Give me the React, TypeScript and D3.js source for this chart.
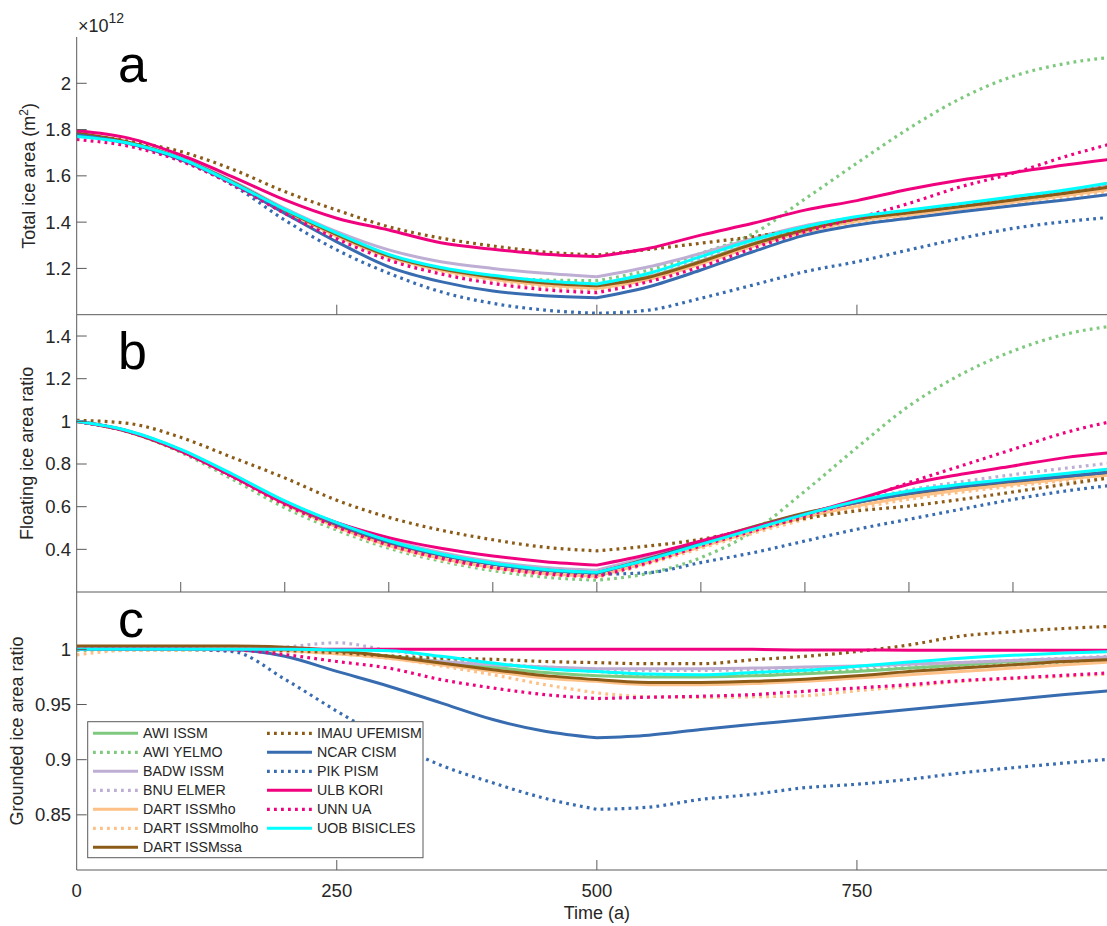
import React from 'react';
import * as d3 from 'd3';

// ---------- data ----------
const TIMES = [0, 50, 100, 150, 200, 250, 300, 350, 400, 450, 500, 550, 600, 650, 700, 750, 800, 850, 900, 950, 1000];

const MODELS = ['AWI ISSM', 'AWI YELMO', 'BADW ISSM', 'BNU ELMER', 'DART ISSMho', 'DART ISSMmolho', 'DART ISSMssa',
  'IMAU UFEMISM', 'NCAR CISM', 'PIK PISM', 'ULB KORI', 'UNN UA', 'UOB BISICLES'];
const COLORS = ['#7fc97f', '#7fc97f', '#beaed4', '#beaed4', '#fdc086', '#fdc086', '#8c5b17',
  '#8c5b17', '#386cb0', '#386cb0', '#f0027f', '#f0027f', '#00ffff'];
const DOTTED = [false, true, false, true, false, true, false, true, false, true, false, true, false];

// Total ice area (x 1e12 m^2)
const TOTAL_AREA: number[][] = [
  [1.780, 1.742, 1.675, 1.572, 1.452, 1.345, 1.252, 1.196, 1.163, 1.139, 1.126, 1.165, 1.232, 1.308, 1.368, 1.416, 1.443, 1.470, 1.499, 1.529, 1.560],
  [1.775, 1.740, 1.673, 1.568, 1.446, 1.338, 1.248, 1.195, 1.163, 1.150, 1.147, 1.193, 1.265, 1.350, 1.500, 1.655, 1.805, 1.935, 2.030, 2.085, 2.115],
  [1.780, 1.742, 1.676, 1.577, 1.460, 1.359, 1.280, 1.229, 1.200, 1.179, 1.164, 1.207, 1.265, 1.330, 1.385, 1.420, 1.447, 1.475, 1.503, 1.530, 1.558],
  [1.778, 1.740, 1.673, 1.570, 1.450, 1.346, 1.255, 1.200, 1.166, 1.143, 1.130, 1.172, 1.240, 1.315, 1.374, 1.420, 1.449, 1.478, 1.508, 1.538, 1.570],
  [1.780, 1.741, 1.673, 1.570, 1.448, 1.340, 1.250, 1.192, 1.154, 1.128, 1.114, 1.152, 1.220, 1.296, 1.358, 1.405, 1.432, 1.458, 1.486, 1.515, 1.545],
  [1.778, 1.740, 1.672, 1.568, 1.445, 1.336, 1.245, 1.187, 1.148, 1.121, 1.107, 1.146, 1.214, 1.290, 1.352, 1.400, 1.427, 1.453, 1.480, 1.508, 1.538],
  [1.785, 1.745, 1.676, 1.573, 1.453, 1.346, 1.254, 1.198, 1.162, 1.137, 1.125, 1.162, 1.229, 1.305, 1.366, 1.414, 1.441, 1.467, 1.496, 1.525, 1.556],
  [1.783, 1.750, 1.705, 1.628, 1.532, 1.452, 1.380, 1.331, 1.297, 1.271, 1.258, 1.282, 1.309, 1.337, 1.372, 1.414, 1.442, 1.469, 1.497, 1.526, 1.558],
  [1.778, 1.740, 1.670, 1.566, 1.438, 1.315, 1.207, 1.143, 1.102, 1.082, 1.073, 1.121, 1.193, 1.272, 1.344, 1.388, 1.417, 1.445, 1.471, 1.496, 1.524],
  [1.775, 1.738, 1.668, 1.560, 1.409, 1.280, 1.179, 1.099, 1.049, 1.020, 1.006, 1.020, 1.071, 1.128, 1.186, 1.229, 1.280, 1.330, 1.373, 1.402, 1.423],
  [1.795, 1.763, 1.690, 1.596, 1.496, 1.417, 1.366, 1.311, 1.283, 1.261, 1.251, 1.287, 1.344, 1.395, 1.452, 1.493, 1.542, 1.582, 1.614, 1.647, 1.675],
  [1.757, 1.728, 1.664, 1.562, 1.438, 1.328, 1.236, 1.176, 1.135, 1.108, 1.095, 1.143, 1.207, 1.287, 1.359, 1.417, 1.481, 1.553, 1.611, 1.683, 1.745],
  [1.770, 1.741, 1.675, 1.570, 1.455, 1.352, 1.260, 1.204, 1.170, 1.146, 1.133, 1.179, 1.251, 1.323, 1.380, 1.424, 1.452, 1.481, 1.510, 1.539, 1.575],
];

// Floating ice area ratio
const FLOATING_RATIO: number[][] = [
  [1.0, 0.953, 0.865, 0.746, 0.620, 0.518, 0.435, 0.375, 0.332, 0.303, 0.290, 0.355, 0.428, 0.500, 0.565, 0.620, 0.664, 0.696, 0.722, 0.745, 0.765],
  [1.0, 0.950, 0.855, 0.728, 0.595, 0.490, 0.405, 0.345, 0.300, 0.270, 0.255, 0.288, 0.361, 0.483, 0.673, 0.877, 1.072, 1.220, 1.330, 1.408, 1.450],
  [1.0, 0.955, 0.868, 0.750, 0.625, 0.525, 0.445, 0.385, 0.342, 0.315, 0.302, 0.365, 0.435, 0.505, 0.568, 0.622, 0.665, 0.697, 0.722, 0.745, 0.765],
  [1.0, 0.952, 0.862, 0.742, 0.613, 0.508, 0.422, 0.362, 0.320, 0.293, 0.280, 0.345, 0.418, 0.492, 0.560, 0.625, 0.678, 0.717, 0.750, 0.780, 0.808],
  [1.0, 0.952, 0.862, 0.742, 0.612, 0.505, 0.418, 0.358, 0.315, 0.287, 0.274, 0.340, 0.412, 0.483, 0.550, 0.603, 0.645, 0.678, 0.705, 0.730, 0.752],
  [1.0, 0.951, 0.860, 0.738, 0.608, 0.500, 0.413, 0.352, 0.310, 0.282, 0.268, 0.333, 0.405, 0.475, 0.540, 0.592, 0.635, 0.668, 0.697, 0.722, 0.746],
  [1.0, 0.950, 0.860, 0.742, 0.616, 0.515, 0.432, 0.373, 0.331, 0.302, 0.289, 0.357, 0.432, 0.505, 0.570, 0.620, 0.660, 0.692, 0.718, 0.742, 0.765],
  [1.005, 0.990, 0.925, 0.830, 0.735, 0.630, 0.550, 0.490, 0.445, 0.410, 0.393, 0.416, 0.447, 0.497, 0.545, 0.580, 0.603, 0.634, 0.669, 0.705, 0.740],
  [1.0, 0.953, 0.865, 0.746, 0.620, 0.518, 0.434, 0.374, 0.331, 0.303, 0.290, 0.355, 0.428, 0.500, 0.565, 0.620, 0.662, 0.694, 0.720, 0.742, 0.765],
  [1.0, 0.952, 0.862, 0.742, 0.615, 0.512, 0.428, 0.368, 0.326, 0.297, 0.283, 0.291, 0.338, 0.384, 0.439, 0.494, 0.541, 0.588, 0.634, 0.673, 0.703],
  [1.0, 0.952, 0.862, 0.742, 0.618, 0.525, 0.455, 0.405, 0.369, 0.342, 0.326, 0.377, 0.439, 0.502, 0.564, 0.634, 0.705, 0.752, 0.791, 0.830, 0.856],
  [1.0, 0.951, 0.860, 0.740, 0.610, 0.505, 0.420, 0.358, 0.314, 0.285, 0.272, 0.338, 0.416, 0.486, 0.556, 0.626, 0.713, 0.791, 0.869, 0.947, 1.005],
  [1.0, 0.955, 0.869, 0.752, 0.627, 0.525, 0.440, 0.378, 0.335, 0.306, 0.292, 0.353, 0.423, 0.494, 0.564, 0.626, 0.673, 0.705, 0.731, 0.756, 0.780],
];

// Grounded ice area ratio
const GROUNDED_RATIO: number[][] = [
  [1.0, 1.0, 1.0, 1.0, 1.0, 0.998, 0.994, 0.989, 0.984, 0.979, 0.976, 0.975, 0.975, 0.976, 0.978, 0.980, 0.983, 0.986, 0.989, 0.991, 0.993],
  [0.999, 0.999, 0.999, 0.999, 0.999, 0.998, 0.994, 0.990, 0.987, 0.983, 0.980, 0.977, 0.9765, 0.978, 0.979, 0.981, 0.983, 0.985, 0.9865, 0.988, 0.990],
  [1.0, 1.0, 1.0, 1.0, 0.999, 0.997, 0.993, 0.989, 0.986, 0.984, 0.9825, 0.9825, 0.9825, 0.983, 0.984, 0.985, 0.9865, 0.988, 0.990, 0.9915, 0.9935],
  [1.0, 1.0, 1.0, 1.0, 1.002, 1.006, 0.999, 0.993, 0.987, 0.984, 0.982, 0.981, 0.981, 0.9815, 0.982, 0.984, 0.986, 0.988, 0.990, 0.992, 0.994],
  [1.0, 1.0, 1.0, 1.0, 0.999, 0.996, 0.992, 0.986, 0.980, 0.974, 0.971, 0.968, 0.968, 0.969, 0.971, 0.974, 0.977, 0.980, 0.983, 0.986, 0.989],
  [0.995, 0.999, 0.999, 0.999, 0.998, 0.996, 0.992, 0.985, 0.977, 0.968, 0.9605, 0.957, 0.9565, 0.957, 0.958, 0.9625, 0.9665, 0.971, 0.9735, 0.9756, 0.978],
  [1.003, 1.003, 1.003, 1.003, 1.002, 0.9988, 0.9937, 0.9877, 0.9816, 0.9762, 0.9726, 0.970, 0.970, 0.971, 0.973, 0.976, 0.980, 0.983, 0.986, 0.989, 0.991],
  [1.0, 1.0, 1.0, 1.0, 0.999, 0.997, 0.994, 0.992, 0.991, 0.989, 0.988, 0.987, 0.987, 0.9905, 0.9937, 0.998, 1.004, 1.012, 1.016, 1.019, 1.021],
  [1.0, 1.0, 1.0, 0.9996, 0.9937, 0.980, 0.9666, 0.9515, 0.9364, 0.9258, 0.9198, 0.9222, 0.9274, 0.932, 0.9364, 0.941, 0.9455, 0.950, 0.9545, 0.959, 0.963],
  [1.0, 1.0, 1.0, 0.998, 0.973, 0.944, 0.917, 0.895, 0.879, 0.865, 0.855, 0.857, 0.864, 0.8686, 0.8746, 0.8777, 0.8822, 0.888, 0.8927, 0.897, 0.901],
  [1.0, 1.0, 1.0, 1.0, 1.0, 1.0, 1.0, 1.0, 1.0, 1.0, 1.0, 1.0, 1.0, 1.0, 0.9995, 0.9995, 0.9993, 0.9993, 0.9993, 0.9992, 0.9992],
  [1.0, 1.0, 1.0, 0.9995, 0.9952, 0.989, 0.983, 0.9726, 0.965, 0.959, 0.9554, 0.9566, 0.9575, 0.959, 0.962, 0.965, 0.968, 0.9717, 0.974, 0.9765, 0.979],
  [1.0, 1.0, 1.0, 1.0, 1.0, 0.9995, 0.9988, 0.9937, 0.9876, 0.9825, 0.980, 0.9777, 0.977, 0.979, 0.981, 0.9846, 0.9885, 0.992, 0.9946, 0.9967, 0.998],
];

const A_TICKS = [1.2, 1.4, 1.6, 1.8, 2];
const A_TICK_LABELS = ['1.2', '1.4', '1.6', '1.8', '2'];
const B_TICKS = [0.4, 0.6, 0.8, 1.0, 1.2, 1.4];
const B_TICK_LABELS = ['0.4', '0.6', '0.8', '1', '1.2', '1.4'];
const C_TICKS = [0.85, 0.9, 0.95, 1.0];
const C_TICK_LABELS = ['0.85', '0.9', '0.95', '1'];
const X_TICKS_AC = [250, 500, 750];
const X_TICKS_B = [100, 200, 300, 400, 500, 600, 700, 800, 900];
const X_TICK_LABELS = ['0', '250', '500', '750'];
const X_LABEL_VALUES = [0, 250, 500, 750];

// ---------- layout ----------
const W = 1107;
const H = 926;
const FONT = "'Liberation Sans', Arial, Helvetica, sans-serif";
const TEXT = '#262626';
const AXIS = '#5a5a5a';
const X_LEFT = 76.7;
const X_RIGHT_1000 = 1117;

const x = d3.scaleLinear().domain([0, 1000]).range([X_LEFT, X_RIGHT_1000]);

const PANELS = [
  { key: 'a', top: 37, bottom: 314.7, domain: [1.0, 2.2], data: TOTAL_AREA, ticks: A_TICKS, tickLabels: A_TICK_LABELS, xt: X_TICKS_AC,
    ylabel: 'Total ice area (m', labelX: 35, letterY: 82 },
  { key: 'b', top: 314.7, bottom: 592, domain: [0.2, 1.5], data: FLOATING_RATIO, ticks: B_TICKS, tickLabels: B_TICK_LABELS, xt: X_TICKS_B,
    ylabel: 'Floating ice area ratio', labelX: 33, letterY: 369 },
  { key: 'c', top: 592, bottom: 870, domain: [0.8, 1.052], data: GROUNDED_RATIO, ticks: C_TICKS, tickLabels: C_TICK_LABELS, xt: X_TICKS_AC,
    ylabel: 'Grounded ice area ratio', labelX: 23, letterY: 637 },
];

function makePath(values: number[], y: d3.ScaleLinear<number, number>) {
  const pts = TIMES.map((t, i) => [t, values[i]] as [number, number]);
  const gen = d3.line<[number, number]>().x(d => x(d[0])).y(d => y(d[1])).curve(d3.curveMonotoneX);
  const first = pts.filter(p => p[0] <= 500);
  const second = pts.filter(p => p[0] >= 500);
  const d2 = gen(second) || '';
  return (gen(first) || '') + 'L' + d2.slice(1);
}

const DASH = '2.8,4.2';

export default function App() {
  return (
    <svg width={W} height={H} style={{ position: 'absolute', left: 0, top: 0, background: '#fff' }}
      fontFamily={FONT}>
      <rect x={0} y={0} width={W} height={H} fill="#fff" />
      <defs>
        {PANELS.map(p => (
          <clipPath id={`clip-${p.key}`} key={p.key}>
            <rect x={X_LEFT} y={p.top} width={W - X_LEFT} height={p.bottom - p.top} />
          </clipPath>
        ))}
      </defs>

      {PANELS.map(p => {
        const y = d3.scaleLinear().domain(p.domain).range([p.bottom, p.top]);
        const midY = (p.top + p.bottom) / 2;
        return (
          <g key={p.key}>
            <g clipPath={`url(#clip-${p.key})`}>
              {p.data.map((vals, i) => (
                <path key={i} d={makePath(vals, y)} fill="none" stroke={COLORS[i]} strokeWidth={DOTTED[i] ? 3.2 : 3}
                  strokeDasharray={DOTTED[i] ? DASH : undefined} strokeLinejoin="round" />
              ))}
            </g>
            {/* axes */}
            <line x1={X_LEFT} x2={X_LEFT} y1={p.top} y2={p.bottom} stroke={AXIS} strokeWidth={1} />
            <line x1={X_LEFT} x2={W} y1={p.bottom} y2={p.bottom} stroke={AXIS} strokeWidth={1} />
            {p.ticks.map((t, i) => (
              <g key={i}>
                <line x1={X_LEFT} x2={X_LEFT + 10} y1={y(t)} y2={y(t)} stroke={AXIS} strokeWidth={1} />
                <text x={71} y={y(t)} dy="0.35em" textAnchor="end" fontSize={18.5} fill={TEXT}>{p.tickLabels[i]}</text>
              </g>
            ))}
            {p.xt.map(t => (
              <line key={t} x1={x(t)} x2={x(t)} y1={p.bottom} y2={p.bottom - 10} stroke={AXIS} strokeWidth={1} />
            ))}
            <text x={118} y={p.letterY} fontSize={52} fill="#000">{p.key}</text>
            <text transform={`translate(${p.labelX},${midY}) rotate(-90)`} textAnchor="middle" fontSize={18} fill={TEXT}>
              {p.ylabel}
              {p.key === 'a' ? <><tspan fontSize={12} dy={-7}>2</tspan><tspan dy={7}>)</tspan></> : null}
            </text>
          </g>
        );
      })}

      {/* exponent */}
      <text x={78} y={32} fontSize={18} fill={TEXT}>×10<tspan fontSize={14} dy={-9}>12</tspan></text>

      {/* x tick labels */}
      {X_LABEL_VALUES.map((t, i) => (
        <text key={t} x={x(t)} y={897} textAnchor="middle" fontSize={18.5} fill={TEXT}>{X_TICK_LABELS[i]}</text>
      ))}
      <text x={x(500)} y={919} textAnchor="middle" fontSize={18} fill={TEXT}>Time (a)</text>

      {/* legend */}
      <g>
        <rect x={87.7} y={721.7} width={335.3} height={136} fill="#fff" stroke={AXIS} strokeWidth={1} />
        {MODELS.map((m, i) => {
          const col = i < 7 ? 0 : 1;
          const row = i < 7 ? i : i - 7;
          const cy = 733.3 + row * 19.0;
          const lx = col === 0 ? 93 : 267;
          return (
            <g key={m}>
              <line x1={lx} x2={lx + 45} y1={cy} y2={cy} stroke={COLORS[i]} strokeWidth={DOTTED[i] ? 3.2 : 3}
                strokeDasharray={DOTTED[i] ? DASH : undefined} />
              <text x={lx + 50} y={cy} dy="0.36em" fontSize={14.2} fill={TEXT}>{m}</text>
            </g>
          );
        })}
      </g>
    </svg>
  );
}
